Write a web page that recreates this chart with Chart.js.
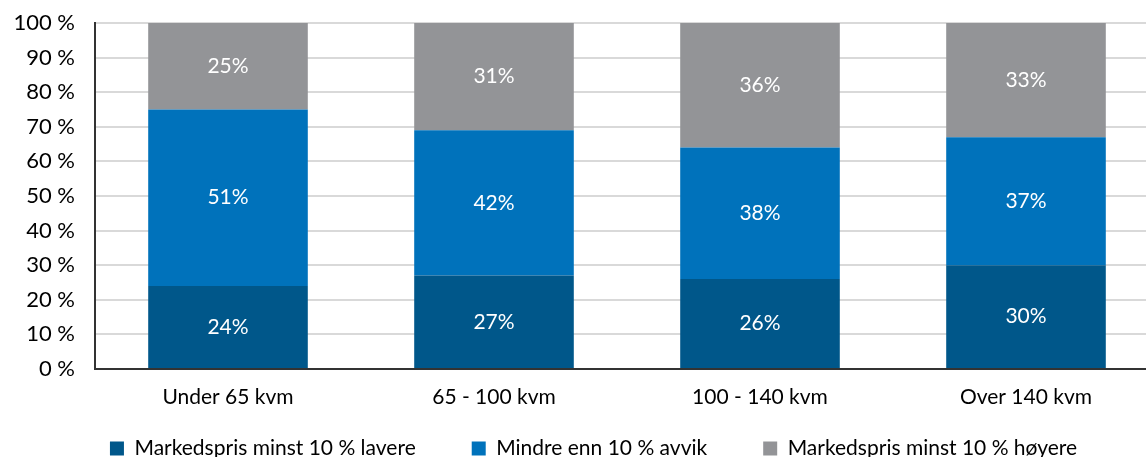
<!DOCTYPE html>
<html lang="no">
<head>
    <meta charset="UTF-8">
    <title>Markedspris og avvik</title>
    <script src="https://cdn.jsdelivr.net/npm/chart.js@4/dist/chart.umd.min.js"></script>
    <style>
        body { margin: 0; overflow: hidden; background: #fff; }
        .wrapper { width: 1160px; height: 457px; }
    </style>
</head>
<body>
    <div class="wrapper">
        <canvas id="myChart"></canvas>
    </div>
    <script>
        var categories = ['Under 65 kvm', '65 - 100 kvm', '100 - 140 kvm', 'Over 140 kvm'];
        var seriesNames = ['Markedspris minst 10 % lavere', 'Mindre enn 10 % avvik', 'Markedspris minst 10 % høyere'];
        var lavere = [24, 27, 26, 30];
        var avvik = [51, 42, 38, 37];
        var hoyere = [25, 31, 36, 33];
        var yTicks = [0, 10, 20, 30, 40, 50, 60, 70, 80, 90, 100];

        var FONT = 'Lato, "DejaVu Sans", sans-serif';

        // white value labels in the middle of each segment
        var barLabels = {
            id: 'barLabels',
            afterDatasetsDraw: function(chart) {
                var ctx = chart.ctx;
                ctx.save();
                ctx.fillStyle = '#ffffff';
                ctx.font = '21px ' + FONT;
                ctx.textAlign = 'center';
                ctx.textBaseline = 'middle';
                chart.data.datasets.forEach(function(ds, i) {
                    var meta = chart.getDatasetMeta(i);
                    meta.data.forEach(function(bar, j) {
                        var y = (bar.y + bar.base) / 2;
                        ctx.fillText(ds.data[j] + '%', bar.x, y);
                    });
                });
                ctx.restore();
            }
        };

        var chart = new Chart(document.getElementById('myChart'), {
            type: 'bar',
            data: {
                labels: categories,
                datasets: [
                    { label: seriesNames[0], data: lavere, backgroundColor: '#00578A' },
                    { label: seriesNames[1], data: avvik, backgroundColor: '#0072BB' },
                    { label: seriesNames[2], data: hoyere, backgroundColor: '#939497' }
                ]
            },
            options: {
                responsive: true,
                maintainAspectRatio: false,
                animation: false,
                datasets: { bar: { barPercentage: 0.6, categoryPercentage: 1 } },
                layout: { padding: { top: 23, right: 1, left: 0, bottom: 0 } },
                plugins: {
                    tooltip: { enabled: false },
                    legend: {
                        position: 'bottom',
                        labels: {
                            color: '#000',
                            font: { family: FONT, size: 21 },
                            boxWidth: 14,
                            boxHeight: 14,
                            padding: 56
                        }
                    }
                },
                scales: {
                    x: {
                        stacked: true,
                        grid: { display: false },
                        border: { color: '#333', width: 2 },
                        afterFit: function(scale) { scale.height = 41; },
                        ticks: { color: '#000', font: { family: FONT, size: 21 }, padding: 8 }
                    },
                    y: {
                        stacked: true,
                        min: 0,
                        max: 100,
                        afterBuildTicks: function(scale) {
                            scale.ticks = yTicks.map(function(v) { return { value: v }; });
                        },
                        afterFit: function(scale) {
                            scale.width = 95;
                            scale.paddingTop = 0;
                            scale.paddingBottom = 0;
                        },
                        grid: { color: '#d9d9d9', lineWidth: 2, drawTicks: false },
                        border: { color: '#333', width: 2 },
                        ticks: {
                            color: '#000',
                            font: { family: FONT, size: 22 },
                            padding: 20,
                            callback: function(v) { return v + ' %'; }
                        }
                    }
                }
            },
            plugins: [barLabels]
        });

        // wide gaps between legend items, but keep the legend short and a bit right of centre
        var legendFit = chart.legend.fit;
        chart.legend.fit = function() {
            legendFit.call(this);
            this.height = 47;
        };
        var legendDraw = chart.legend.draw;
        chart.legend.draw = function() {
            var t = this.top, l = this.left, r = this.right;
            this.top = 449 - this.options.labels.padding - 11;
            this.left += 14;
            this.right += 14;
            legendDraw.apply(this, arguments);
            this.top = t; this.left = l; this.right = r;
        };
        chart.update();
    </script>
</body>
</html>
